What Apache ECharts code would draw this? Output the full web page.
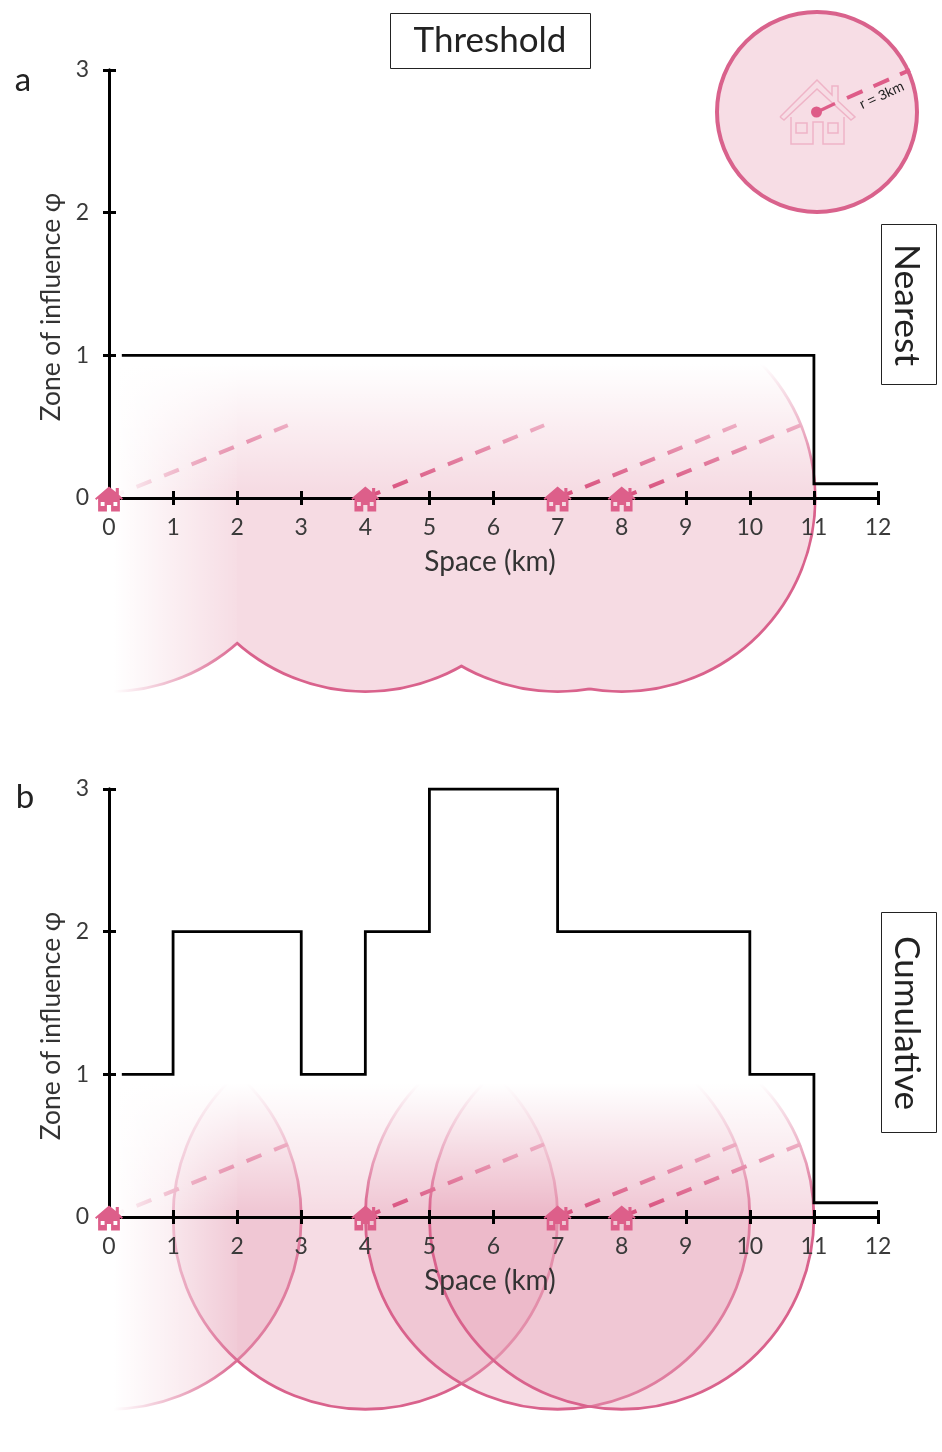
<!DOCTYPE html>
<html><head><meta charset="utf-8">
<style>html,body{margin:0;padding:0;background:#fff}#c{width:942px;height:1452px}</style>
<script src="https://cdn.jsdelivr.net/npm/echarts@6/dist/echarts.min.js"></script>
</head><body><div id="c"></div>
<script>
// ---- data ----
const houseX = [0, 4, 7, 8];
const radiusKm = [3];
const nearestStepX = [0.2, 11, 11, 12];
const nearestStepY = [1, 1, 0.1, 0.1];
const cumulativeStepX = [0.2, 1, 1, 3, 3, 4, 4, 5, 5, 7, 7, 10, 10, 11, 11, 12];
const cumulativeStepY = [1, 1, 2, 2, 1, 1, 2, 2, 3, 3, 2, 2, 1, 1, 0.1, 0.1];
const dashStartX = [0, 4, 7, 8];
const dashEndX = [2.79, 6.79, 9.79, 10.79];
const dashStartY = [0, 0, 0, 0];
const dashEndY = [0.51, 0.51, 0.51, 0.51];
const xTicks = [0, 12, 1];
const yTicks = [0, 3, 1];
const fadeTop = [-3, 11.3, 1.42, 0];
const fadeLeft = [-3, 2, 1.42, -1.5];

const PINK = '#d9628c', FILL = '#f6dbe3', FILL_A = 'rgba(233,168,188,0.4)', FONT = 'Lato';
const HOUSE = 'path://M13.5 0L20 5.5V1.5H23V8.3L27 12L25.8 13.4L24 12V25H15.5V18.5H11.5V25H3V12L1.2 13.4L0 12ZM5.5 15.5V19.5H9.2V15.5ZM17.8 15.5V19.5H21.5V15.5Z';

const G = echarts.graphic;
const c = echarts.init(document.getElementById('c'), null, {renderer:'canvas'});
const grids = [{left:109,width:769,top:70,height:428},{left:109,width:769,top:789,height:428}];

function xAxes(i){
  const base = {type:'value',gridIndex:i,min:xTicks[0],max:xTicks[1],interval:xTicks[2],position:'bottom',z:10,splitLine:{show:false},
    axisLine:{onZero:false,lineStyle:{color:'#000',width:3}}};
  return [
    Object.assign({},base,{axisTick:{show:true,length:7,lineStyle:{color:'#000',width:3}},
      axisLabel:{margin:18,fontFamily:FONT,fontSize:23,color:'#3a3a3a'},
      name:'Space (km)',nameLocation:'middle',nameGap:50,nameTextStyle:{fontFamily:FONT,fontSize:28,color:'#333',padding:[0,7,0,0]}}),
    Object.assign({},base,{axisTick:{show:true,inside:true,length:7,lineStyle:{color:'#000',width:3}},axisLabel:{show:false}})
  ];
}
function yAxes(i){
  const base = {type:'value',gridIndex:i,min:yTicks[0],max:yTicks[1],interval:yTicks[2],position:'left',z:10,splitLine:{show:false},
    axisLine:{onZero:false,lineStyle:{color:'#000',width:3}}};
  return [
    Object.assign({},base,{axisTick:{show:true,length:6,lineStyle:{color:'#000',width:3}},
      axisLabel:{margin:20,fontFamily:FONT,fontSize:23,color:'#3a3a3a'},
      name:'Zone of influence φ',nameLocation:'middle',nameGap:45,nameRotate:90,
      nameTextStyle:{fontFamily:FONT,fontSize:26.4,color:'#333',padding:[0,46,0,0]}}),
    Object.assign({},base,{axisTick:{show:true,inside:true,length:7,lineStyle:{color:'#000',width:3}},axisLabel:{show:false}})
  ];
}
const circleData = houseX.map(x=>[x,0]);
function circleSeries(ax,style,z){
  return {type:'custom',coordinateSystem:'cartesian2d',xAxisIndex:ax,yAxisIndex:ax,clip:false,z,silent:true,
    encode:{x:0,y:1},data:circleData,
    renderItem:(p,api)=>{const o=api.coord([api.value(0),api.value(1)]);const r=api.size([radiusKm[0],0])[0];
      return {type:'circle',shape:{cx:o[0],cy:o[1],r},style:Object.assign({},style)};}};
}
function fadeSeries(ax,z){
  return {type:'custom',coordinateSystem:'cartesian2d',xAxisIndex:ax,yAxisIndex:ax,clip:false,z,silent:true,
    encode:{x:[0,1],y:[2,3]},data:[fadeLeft,fadeTop],
    renderItem:(p,api)=>{
      const a=api.coord([api.value(0),api.value(2)]),b=api.coord([api.value(1),api.value(3)]);
      const fill=p.dataIndex===0
        ? new G.LinearGradient(0,0,1,0,[{offset:0,color:'rgba(255,255,255,1)'},{offset:0.615,color:'rgba(255,255,255,1)'},{offset:1,color:'rgba(255,255,255,0.06)'}])
        : new G.LinearGradient(0,0,0,1,[{offset:0,color:'rgba(255,255,255,1)'},{offset:0.34,color:'rgba(255,255,255,1)'},{offset:0.97,color:'rgba(255,255,255,0)'},{offset:1,color:'rgba(255,255,255,0)'}]);
      return {type:'rect',shape:{x:a[0],y:a[1],width:b[0]-a[0],height:b[1]-a[1]},style:{fill}};
    }};
}
function dashSeries(ax,z){
  return dashStartX.map((x,i)=>({type:'line',xAxisIndex:ax,yAxisIndex:ax,z,silent:true,symbol:'none',animation:false,
    data:[[x,dashStartY[i]],[dashEndX[i],dashEndY[i]]],lineStyle:{color:'#d9527f',width:4,type:[16,13.7],cap:'butt'}}));
}
function stepSeries(ax,xs,ys){
  return {type:'line',xAxisIndex:ax,yAxisIndex:ax,z:11,silent:true,symbol:'none',animation:false,
    data:xs.map((x,i)=>[x,ys[i]]),lineStyle:{color:'#000',width:2.8,join:'miter'}};
}
function houseSeries(ax){
  return {type:'scatter',xAxisIndex:ax,yAxisIndex:ax,z:12,silent:true,animation:false,clip:false,
    symbol:HOUSE,symbolSize:[28,25],symbolOffset:[0,1],itemStyle:{color:'#dd5f8a',opacity:1},data:circleData};
}
const series = [
  // a: union of circles: wide stroke first, opaque fill on top
  circleSeries(0,{fill:'none',stroke:PINK,lineWidth:5.5},1),
  circleSeries(0,{fill:FILL},2),
  ...dashSeries(0,3),
  fadeSeries(0,4),
  stepSeries(0,nearestStepX,nearestStepY),
  houseSeries(0),
  // b: overlapping translucent circles
  circleSeries(2,{fill:FILL_A,stroke:PINK,lineWidth:2.8},1),
  ...dashSeries(2,3),
  fadeSeries(2,4),
  stepSeries(2,cumulativeStepX,cumulativeStepY),
  houseSeries(2),
];
function box(x,y,w,h){return {type:'rect',z:20,shape:{x,y,width:w,height:h},style:{fill:'#fff',stroke:'#222',lineWidth:1}};}
function label(t,x,y,size,rot){return {type:'text',z:21,x,y,rotation:rot||0,style:{text:t,x:0,y:0,font:size+'px '+FONT,fill:'#222',align:'center',verticalAlign:'middle',textAlign:'center',textVerticalAlign:'middle'}};}
const inset = '#efb4c7';
function ln(x1,y1,x2,y2,w,col,dash){return {type:'line',z:22,shape:{x1,y1,x2,y2},style:{stroke:col,lineWidth:w,lineDash:dash||null}};}
const graphic = [
  box(390.5,13.5,200,55), label('Threshold',490,41,35),
  box(881.5,224.5,55,160), label('Nearest',906,305,35.5,-Math.PI/2),
  box(881.5,912.5,55,220), label('Cumulative',906,1023,35,-Math.PI/2),
  label('a',23,80,33), label('b',25,797,33),
  {type:'circle',z:20,shape:{cx:817,cy:112,r:100},style:{fill:'#f7dde5',stroke:PINK,lineWidth:4}},
  {type:'polyline',z:21,shape:{points:[[780,117],[817,80],[832,95],[832,86],[838,86],[838,101],[855,117],[851,120],[817,89],[784,120],[780,117]]},style:{fill:'none',stroke:inset,lineWidth:1.5}},
  {type:'polyline',z:21,shape:{points:[[791,117],[791,144],[813,144],[813,122],[823,122],[823,144],[844,144],[844,117]]},style:{fill:'none',stroke:inset,lineWidth:1.5}},
  {type:'rect',z:21,shape:{x:796,y:123,width:11,height:10},style:{fill:'none',stroke:inset,lineWidth:1.5}},
  {type:'rect',z:21,shape:{x:828,y:123,width:10,height:10},style:{fill:'none',stroke:inset,lineWidth:1.5}},
  {type:'circle',z:22,shape:{cx:816.5,cy:112,r:5.5},style:{fill:'#de5c88'}},
  ln(817,112,835,103.5,3.2,'#de5c88'),
  ln(847,98,910,70,4,'#de5c88',[17,12]),
  {type:'text',z:23,x:882,y:96,rotation:0.43,style:{text:'r = 3km',x:0,y:0,font:'14px "Liberation Sans"',fill:'#222',align:'center',verticalAlign:'middle',textAlign:'center',textVerticalAlign:'middle'}},
];
c.setOption({animation:false,backgroundColor:'#fff',
  grid:grids,
  xAxis:[...xAxes(0),...xAxes(1)],
  yAxis:[...yAxes(0),...yAxes(1)],
  series,graphic});
</script></body></html>
